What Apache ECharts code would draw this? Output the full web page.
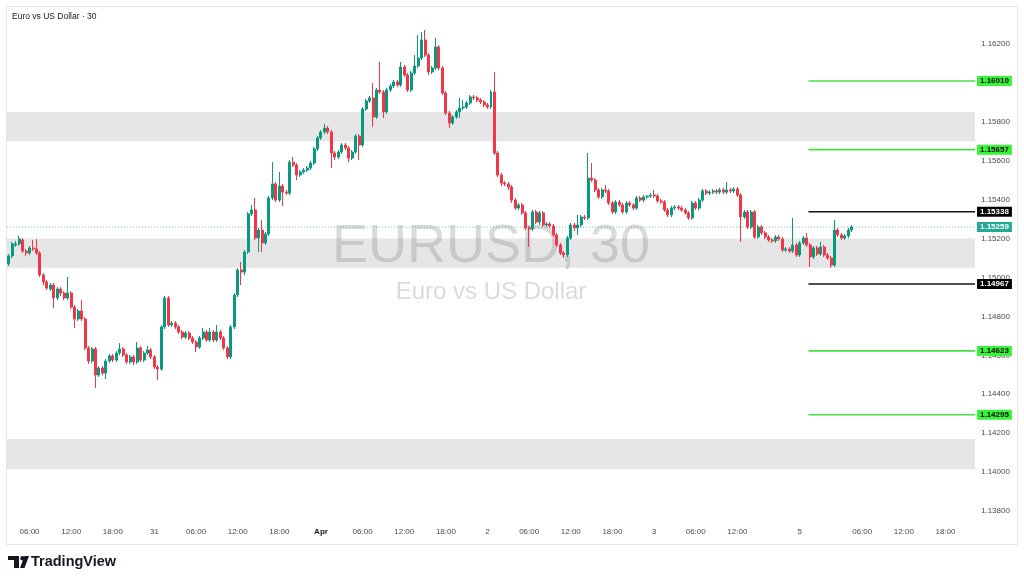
<!DOCTYPE html>
<html>
<head>
<meta charset="utf-8">
<title>EURUSD, 30</title>
<script src="https://cdn.jsdelivr.net/npm/echarts@6.0.0/dist/echarts.min.js"></script>
<style>
  html, body { margin: 0; padding: 0; background: #fff; }
  #chart { width: 1024px; height: 582px; }
</style>
</head>
<body>
<div id="chart"></div>
<script>
// 30 minute candles, [open, close, low, high]
const candles = [
  [1.15070,1.15111,1.15059,1.15121],[1.15111,1.15173,1.15100,1.15183],[1.15167,1.15173,1.15157,1.15188],[1.15173,1.15198,1.15162,1.15214],
  [1.15193,1.15136,1.15126,1.15203],[1.15136,1.15126,1.15111,1.15147],[1.15126,1.15152,1.15116,1.15162],[1.15152,1.15147,1.15136,1.15193],
  [1.15147,1.15126,1.15116,1.15198],[1.15126,1.15013,1.15003,1.15136],[1.15013,1.14977,1.14961,1.15023],[1.14977,1.14946,1.14936,1.14987],
  [1.14941,1.14961,1.14930,1.14972],[1.14961,1.14895,1.14843,1.14972],[1.14895,1.14941,1.14884,1.14951],[1.14941,1.14920,1.14905,1.14951],
  [1.14920,1.14895,1.14884,1.14930],[1.14895,1.14920,1.14884,1.15003],[1.14920,1.14848,1.14838,1.14930],[1.14848,1.14787,1.14741,1.14859],
  [1.14787,1.14828,1.14776,1.14838],[1.14828,1.14787,1.14776,1.14884],[1.14787,1.14638,1.14628,1.14797],[1.14638,1.14571,1.14556,1.14648],
  [1.14571,1.14633,1.14561,1.14643],[1.14633,1.14499,1.14432,1.14643],[1.14499,1.14535,1.14489,1.14545],[1.14535,1.14509,1.14499,1.14545],
  [1.14509,1.14571,1.14478,1.14581],[1.14571,1.14597,1.14561,1.14607],[1.14597,1.14576,1.14566,1.14607],[1.14576,1.14612,1.14566,1.14622],
  [1.14612,1.14633,1.14602,1.14663],[1.14633,1.14602,1.14592,1.14643],[1.14602,1.14566,1.14556,1.14612],[1.14566,1.14592,1.14556,1.14602],
  [1.14592,1.14566,1.14550,1.14602],[1.14566,1.14638,1.14556,1.14669],[1.14638,1.14576,1.14566,1.14648],[1.14576,1.14612,1.14566,1.14622],
  [1.14612,1.14628,1.14602,1.14648],[1.14628,1.14592,1.14581,1.14638],[1.14592,1.14540,1.14530,1.14602],[1.14540,1.14530,1.14473,1.14550],
  [1.14530,1.14746,1.14520,1.14756],[1.14746,1.14895,1.14735,1.14905],[1.14895,1.14756,1.14746,1.14905],[1.14756,1.14766,1.14746,1.14776],
  [1.14766,1.14746,1.14735,1.14776],[1.14746,1.14720,1.14710,1.14756],[1.14720,1.14694,1.14684,1.14730],[1.14694,1.14715,1.14684,1.14725],
  [1.14715,1.14689,1.14679,1.14725],[1.14689,1.14669,1.14658,1.14699],[1.14669,1.14643,1.14617,1.14679],[1.14643,1.14689,1.14633,1.14699],
  [1.14689,1.14720,1.14679,1.14741],[1.14720,1.14679,1.14669,1.14730],[1.14679,1.14720,1.14669,1.14741],[1.14720,1.14679,1.14669,1.14730],
  [1.14679,1.14720,1.14669,1.14756],[1.14720,1.14689,1.14679,1.14730],[1.14689,1.14638,1.14628,1.14699],[1.14638,1.14592,1.14581,1.14648],
  [1.14592,1.14746,1.14581,1.14756],[1.14746,1.14910,1.14735,1.14920],[1.14910,1.15039,1.14900,1.15049],[1.15039,1.15028,1.14961,1.15080],
  [1.15028,1.15131,1.15013,1.15141],[1.15131,1.15327,1.15121,1.15337],[1.15327,1.15347,1.15316,1.15373],[1.15347,1.15203,1.15193,1.15409],
  [1.15203,1.15244,1.15131,1.15255],[1.15244,1.15178,1.15131,1.15296],[1.15178,1.15224,1.15167,1.15234],[1.15224,1.15409,1.15214,1.15419],
  [1.15409,1.15481,1.15398,1.15593],[1.15481,1.15398,1.15388,1.15491],[1.15398,1.15470,1.15388,1.15542],[1.15470,1.15439,1.15368,1.15481],
  [1.15439,1.15434,1.15424,1.15450],[1.15434,1.15593,1.15424,1.15604],[1.15593,1.15578,1.15568,1.15619],[1.15578,1.15527,1.15501,1.15588],
  [1.15527,1.15542,1.15516,1.15552],[1.15542,1.15552,1.15532,1.15563],[1.15552,1.15563,1.15542,1.15573],[1.15563,1.15588,1.15552,1.15599],
  [1.15588,1.15661,1.15578,1.15671],[1.15661,1.15717,1.15650,1.15727],[1.15717,1.15748,1.15707,1.15758],[1.15748,1.15768,1.15737,1.15789],
  [1.15768,1.15748,1.15737,1.15779],[1.15748,1.15640,1.15563,1.15758],[1.15640,1.15619,1.15604,1.15650],[1.15619,1.15645,1.15609,1.15655],
  [1.15645,1.15681,1.15635,1.15691],[1.15681,1.15666,1.15655,1.15691],[1.15666,1.15614,1.15593,1.15676],[1.15614,1.15645,1.15604,1.15655],
  [1.15645,1.15727,1.15635,1.15737],[1.15727,1.15681,1.15604,1.15737],[1.15681,1.15866,1.15671,1.15876],[1.15866,1.15907,1.15856,1.15917],
  [1.15907,1.15923,1.15897,1.15933],[1.15923,1.15825,1.15774,1.16000],[1.15825,1.15964,1.15815,1.15974],[1.15964,1.15953,1.15943,1.16108],
  [1.15953,1.15851,1.15820,1.15964],[1.15851,1.15964,1.15840,1.15974],[1.15964,1.15984,1.15953,1.15995],[1.15984,1.16005,1.15974,1.16015],
  [1.16005,1.15989,1.15979,1.16015],[1.15989,1.16082,1.15979,1.16108],[1.16082,1.16041,1.16031,1.16092],[1.16041,1.15964,1.15953,1.16051],
  [1.15964,1.16051,1.15953,1.16061],[1.16051,1.16087,1.16041,1.16143],[1.16087,1.16128,1.16077,1.16246],[1.16128,1.16221,1.16118,1.16262],
  [1.16221,1.16143,1.16133,1.16272],[1.16143,1.16056,1.16041,1.16154],[1.16056,1.16077,1.16046,1.16087],[1.16077,1.16185,1.16066,1.16231],
  [1.16185,1.16077,1.16066,1.16195],[1.16077,1.15948,1.15938,1.16087],[1.15948,1.15845,1.15835,1.15959],[1.15845,1.15794,1.15768,1.15856],
  [1.15794,1.15825,1.15784,1.15835],[1.15825,1.15851,1.15815,1.15861],[1.15851,1.15871,1.15820,1.15923],[1.15871,1.15876,1.15861,1.15912],
  [1.15876,1.15897,1.15866,1.15907],[1.15897,1.15928,1.15887,1.15938],[1.15928,1.15923,1.15912,1.15938],[1.15923,1.15912,1.15902,1.15933],
  [1.15912,1.15902,1.15892,1.15923],[1.15902,1.15887,1.15876,1.15912],[1.15887,1.15876,1.15866,1.15897],[1.15876,1.15953,1.15866,1.15964],
  [1.15953,1.15640,1.15630,1.16056],[1.15640,1.15527,1.15516,1.15650],[1.15527,1.15486,1.15470,1.15537],[1.15486,1.15481,1.15470,1.15496],
  [1.15481,1.15465,1.15450,1.15491],[1.15465,1.15398,1.15383,1.15475],[1.15398,1.15357,1.15347,1.15409],[1.15357,1.15373,1.15347,1.15383],
  [1.15373,1.15332,1.15322,1.15383],[1.15332,1.15255,1.15244,1.15342],[1.15255,1.15249,1.15157,1.15265],[1.15249,1.15337,1.15239,1.15347],
  [1.15337,1.15285,1.15275,1.15347],[1.15285,1.15332,1.15270,1.15342],[1.15332,1.15270,1.15260,1.15342],[1.15270,1.15275,1.15260,1.15285],
  [1.15275,1.15265,1.15255,1.15285],[1.15265,1.15219,1.15208,1.15275],[1.15219,1.15167,1.15157,1.15229],[1.15167,1.15126,1.15116,1.15178],
  [1.15126,1.15116,1.15100,1.15136],[1.15116,1.15203,1.15106,1.15214],[1.15203,1.15270,1.15193,1.15280],[1.15270,1.15255,1.15239,1.15280],
  [1.15255,1.15270,1.15219,1.15322],[1.15270,1.15311,1.15260,1.15322],[1.15311,1.15306,1.15296,1.15322],[1.15306,1.15511,1.15296,1.15640],
  [1.15511,1.15501,1.15491,1.15588],[1.15501,1.15450,1.15439,1.15511],[1.15450,1.15414,1.15404,1.15460],[1.15414,1.15450,1.15404,1.15460],
  [1.15450,1.15445,1.15434,1.15475],[1.15445,1.15383,1.15373,1.15455],[1.15383,1.15337,1.15327,1.15393],[1.15337,1.15388,1.15327,1.15398],
  [1.15388,1.15373,1.15363,1.15398],[1.15373,1.15337,1.15327,1.15383],[1.15337,1.15383,1.15327,1.15393],[1.15383,1.15373,1.15363,1.15393],
  [1.15373,1.15357,1.15347,1.15383],[1.15357,1.15409,1.15347,1.15419],[1.15409,1.15398,1.15388,1.15419],[1.15398,1.15414,1.15388,1.15424],
  [1.15414,1.15419,1.15404,1.15424],[1.15419,1.15424,1.15409,1.15434],[1.15424,1.15419,1.15409,1.15450],[1.15419,1.15393,1.15383,1.15429],
  [1.15393,1.15388,1.15378,1.15404],[1.15388,1.15347,1.15337,1.15398],[1.15347,1.15322,1.15311,1.15357],[1.15322,1.15357,1.15311,1.15368],
  [1.15357,1.15363,1.15347,1.15373],[1.15363,1.15357,1.15347,1.15373],[1.15357,1.15347,1.15337,1.15368],[1.15347,1.15332,1.15322,1.15357],
  [1.15332,1.15306,1.15296,1.15342],[1.15306,1.15383,1.15296,1.15393],[1.15383,1.15357,1.15347,1.15393],[1.15357,1.15398,1.15347,1.15409],
  [1.15398,1.15445,1.15388,1.15455],[1.15445,1.15434,1.15424,1.15455],[1.15434,1.15439,1.15424,1.15450],[1.15439,1.15445,1.15429,1.15455],
  [1.15445,1.15439,1.15429,1.15455],[1.15439,1.15450,1.15429,1.15460],[1.15450,1.15439,1.15429,1.15460],[1.15439,1.15450,1.15429,1.15491],
  [1.15450,1.15445,1.15434,1.15460],[1.15445,1.15455,1.15434,1.15465],[1.15455,1.15424,1.15414,1.15465],[1.15424,1.15311,1.15183,1.15434],
  [1.15311,1.15337,1.15301,1.15347],[1.15337,1.15260,1.15249,1.15347],[1.15260,1.15337,1.15249,1.15347],[1.15337,1.15208,1.15198,1.15347],
  [1.15208,1.15260,1.15198,1.15270],[1.15260,1.15229,1.15219,1.15270],[1.15229,1.15208,1.15198,1.15239],[1.15208,1.15193,1.15183,1.15219],
  [1.15193,1.15188,1.15178,1.15203],[1.15188,1.15208,1.15178,1.15219],[1.15208,1.15198,1.15188,1.15219],[1.15198,1.15141,1.15131,1.15208],
  [1.15141,1.15147,1.15131,1.15157],[1.15147,1.15136,1.15126,1.15157],[1.15136,1.15167,1.15126,1.15306],[1.15167,1.15116,1.15106,1.15178],
  [1.15116,1.15178,1.15106,1.15188],[1.15178,1.15203,1.15167,1.15214],[1.15203,1.15167,1.15157,1.15229],[1.15167,1.15106,1.15054,1.15178],
  [1.15106,1.15152,1.15095,1.15162],[1.15152,1.15121,1.15111,1.15162],[1.15121,1.15157,1.15111,1.15183],[1.15157,1.15116,1.15106,1.15167],
  [1.15116,1.15100,1.15090,1.15126],[1.15100,1.15064,1.15049,1.15111],[1.15064,1.15244,1.15054,1.15296],[1.15244,1.15219,1.15208,1.15255],
  [1.15219,1.15203,1.15193,1.15229],[1.15203,1.15214,1.15193,1.15224],[1.15214,1.15244,1.15203,1.15255],[1.15244,1.15260,1.15234,1.15270]
];

// time axis: number of 30 min slots shown and the labelled ones
const slotCount = 279;
const tickSlots = [6, 18, 30, 42, 54, 66, 78, 90, 102, 114, 126, 138, 150, 162, 174, 186, 198, 210, 228, 246, 258, 270];
const tickTexts = ['06:00', '12:00', '18:00', '31', '06:00', '12:00', '18:00', 'Apr', '06:00', '12:00', '18:00', '2',
                   '06:00', '12:00', '18:00', '3', '06:00', '12:00', '5', '06:00', '12:00', '18:00'];

// horizontal levels drawn at the right
const greenLevels = [1.16010, 1.15657, 1.14623, 1.14295];
const blackLevels = [1.15338, 1.14967];
const lastPrice = 1.15259;
const levelFrom = 231;

// shaded zones [top, bottom]
const zones = [[1.15850, 1.15700], [1.15200, 1.15050], [1.14170, 1.14015]];

const priceMin = 1.13754;
const priceMax = 1.16385;

const slots = new Array(slotCount).fill('');
tickSlots.forEach((s, k) => { slots[s] = tickTexts[k]; });

const FONT = '"Liberation Sans", Arial, sans-serif';
const UP = '#089981';
const DOWN = '#f23645';

function levelSeries(price, lineColor, boxColor, textColor, from) {
  return {
    type: 'line',
    xAxisIndex: 1,
    z: 5,
    symbol: 'none',
    silent: true,
    data: [[from, price], [slotCount, price]],
    lineStyle: { color: lineColor, width: 1.6 },
    endLabel: {
      show: true,
      formatter: () => price.toFixed(5),
      backgroundColor: boxColor,
      color: textColor,
      fontFamily: FONT,
      fontSize: 8,
      fontWeight: 'bold',
      padding: [1, 3, 1, 3],
      distance: 2
    }
  };
}

const chart = echarts.init(document.getElementById('chart'), null, { renderer: 'canvas' });

const series = [
  {
    // last price line, also carries the shaded zones
    type: 'line',
    xAxisIndex: 1,
    z: 1,
    symbol: 'none',
    silent: true,
    data: [[0, lastPrice], [slotCount, lastPrice]],
    lineStyle: { color: 'rgba(8,153,129,0.55)', width: 1, type: [1, 2] },
    endLabel: {
      show: true,
      formatter: () => lastPrice.toFixed(5),
      backgroundColor: '#22ab94',
      color: '#fff',
      fontFamily: FONT,
      fontSize: 8,
      fontWeight: 'bold',
      padding: [1, 3, 1, 3],
      distance: 2
    },
    markArea: {
      silent: true,
      itemStyle: { color: '#e6e6e6' },
      data: zones.map(z => [{ yAxis: z[0] }, { yAxis: z[1] }])
    }
  },
  {
    type: 'candlestick',
    z: 3,
    barWidth: '72%',
    data: candles,
    itemStyle: { color: UP, color0: DOWN, borderColor: UP, borderColor0: DOWN, borderWidth: 1 }
  }
];
greenLevels.forEach(p => series.push(levelSeries(p, '#44e044', '#36f536', '#000', levelFrom)));
blackLevels.forEach(p => series.push(levelSeries(p, '#131722', '#000', '#fff', levelFrom)));

chart.setOption({
  animation: false,
  backgroundColor: '#fff',
  grid: { left: 7, right: 49, top: 8, bottom: 62 },
  xAxis: [
    {
      type: 'category',
      data: slots,
      boundaryGap: true,
      axisLine: { show: false },
      axisTick: { show: false },
      splitLine: { show: false },
      axisLabel: {
        interval: (i, v) => v !== '',
        margin: 8,
        fontFamily: FONT,
        fontSize: 8,
        color: '#4a4a4a',
        formatter: v => (v === 'Apr' ? '{b|Apr}' : v),
        rich: { b: { fontFamily: FONT, fontSize: 8, fontWeight: 'bold', color: '#131722' } }
      }
    },
    { type: 'value', min: 0, max: slotCount, show: false }
  ],
  yAxis: {
    type: 'value',
    position: 'right',
    min: priceMin,
    max: priceMax,
    splitNumber: 13,
    minInterval: 0.002,
    maxInterval: 0.002,
    axisLine: { show: false },
    axisTick: { show: false },
    splitLine: { show: false },
    axisLabel: {
      margin: 6,
      fontFamily: FONT,
      fontSize: 8,
      color: '#4a4a4a',
      showMinLabel: false,
      showMaxLabel: false,
      formatter: v => v.toFixed(5)
    }
  },
  graphic: [
    {
      type: 'rect', silent: true, z: 0,
      shape: { x: 6.5, y: 6.5, width: 1011, height: 538 },
      style: { fill: 'none', stroke: '#e3e5ea', lineWidth: 1 }
    },
    {
      type: 'text', silent: true, z: 2, x: 491, y: 247,
      style: { text: 'EURUSD, 30', font: '54px ' + FONT, fill: 'rgba(120,123,134,0.28)', align: 'center', verticalAlign: 'middle' }
    },
    {
      type: 'text', silent: true, z: 2, x: 491, y: 292,
      style: { text: 'Euro vs US Dollar', font: '24px ' + FONT, fill: 'rgba(120,123,134,0.28)', align: 'center', verticalAlign: 'middle' }
    },
    {
      type: 'text', silent: true, z: 10, left: 12, top: 12,
      style: { text: 'Euro vs US Dollar · 30', font: '8.5px ' + FONT, fill: '#131722' }
    },
    {
      type: 'group', silent: true, left: 8, top: 556,
      children: [
        { type: 'rect', shape: { x: 0, y: 0, width: 11, height: 4 }, style: { fill: '#131722' } },
        { type: 'rect', shape: { x: 6, y: 0, width: 5, height: 12 }, style: { fill: '#131722' } },
        { type: 'circle', shape: { cx: 14.5, cy: 2.2, r: 2.2 }, style: { fill: '#131722' } },
        { type: 'polygon', shape: { points: [[12, 12], [16.5, 12], [21, 0], [16.5, 0]] }, style: { fill: '#131722' } }
      ]
    },
    {
      type: 'text', silent: true, left: 31, top: 554,
      style: { text: 'TradingView', font: 'bold 14.5px ' + FONT, fill: '#131722' }
    }
  ],
  series: series
});
</script>
</body>
</html>
